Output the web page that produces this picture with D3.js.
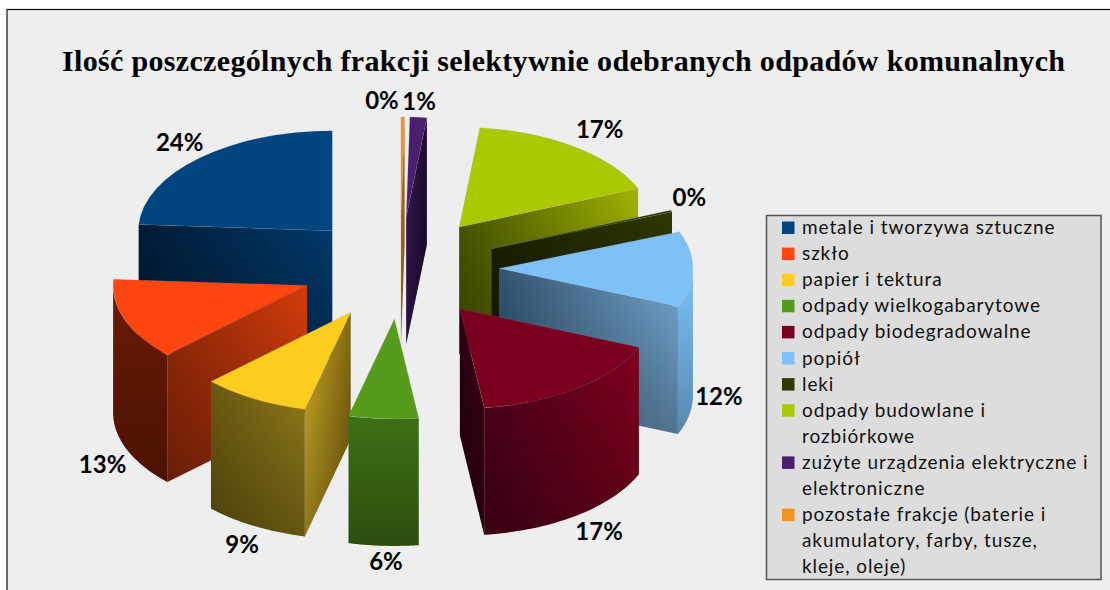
<!DOCTYPE html>
<html>
<head>
<meta charset="utf-8">
<script src="https://cdn.jsdelivr.net/npm/d3@7"></script>
<style>
  body { margin: 0; background: #fff; }
  svg { display: block; }
</style>
</head>
<body>
<div id="wrapper"></div>
<script>
const title = "Ilość poszczególnych frakcji selektywnie odebranych odpadów komunalnych";
const categories = [
  "metale i tworzywa sztuczne",
  "szkło",
  "papier i tektura",
  "odpady wielkogabarytowe",
  "odpady biodegradowalne",
  "popiół",
  "leki",
  "odpady budowlane i\nrozbiórkowe",
  "zużyte urządzenia elektryczne i\nelektroniczne",
  "pozostałe frakcje (baterie i\nakumulatory, farby, tusze,\nkleje, oleje)"
];
const shares = [24, 13.2, 9, 5.8, 16.7, 12.3, 0.3, 17, 1.4, 0.3];

// styles, same order as categories
const colors = ["#00457f", "#ff4510", "#fbcd1f", "#559c1a", "#7b001f", "#7dc1f8", "#2e3a00", "#abc900", "#4a1f70", "#f2951a"];
const wallColors = [
  ["#001b36", "#003a6b"], ["#952a08", "#d43c0c"], ["#d0ac28", "#85690f"], ["#3a6b15", "#3a6b15"], ["#2c0010", "#3a0014"],
  ["#33536f", "#73a6cf"], ["#171f00", "#2e3800"], ["#4a5800", "#a0b400"], ["#3a1a58", "#1e0b30"], ["#c97a14", "#a86a18"]
];
const rimColors = [
  ["#001b36", "#001b36"], ["#6a1a04", "#6a1a04"], ["#6a5a10", "#8f7a1a"], ["#3d7015", "#3d7015"], ["#4e0019", "#80001f"],
  ["#7dc1f8", "#7dc1f8"], ["#171f00", "#171f00"], ["#4a5800", "#4a5800"], ["#1e0b30", "#1e0b30"], ["#c97a14", "#c97a14"]
];
const labelNudges = [[-2, -5], [2, 13], [1, 7], [4, 3], [6, 6], [0, 0], [-6, -8], [9, -6], [-1, -2], [-21, -3]];

const width = 1110, height = 590;
const pieCenter = { x: 400, y: 268 };
const rx = 194, ry = 100;
const explode = 0.51;
const depth = 127;
const labelRadius = 1.134;

const svg = d3.select("#wrapper").append("svg").attr("width", width).attr("height", height);
const defs = svg.append("defs");

// plot area, the frame only shows on the top and left
svg.append("rect")
  .attr("x", 7).attr("y", 9.5)
  .attr("width", width).attr("height", height)
  .attr("fill", "#eeeeee").attr("stroke", "#111").attr("stroke-width", 1.2);

svg.append("text")
  .attr("x", 62).attr("y", 71)
  .attr("textLength", 1003).attr("lengthAdjust", "spacing")
  .style("font", "bold 30px 'Liberation Serif'")
  .text(title);

// counter-clockwise from 12 o'clock
const pie = d3.pie().sort(null).startAngle(0).endAngle(-2 * Math.PI);
const arcs = pie(shares).map((d, i) => {
  const mid = (d.startAngle + d.endAngle) / 2;
  return {
    ...d, i, mid,
    cx: pieCenter.x + explode * rx * Math.sin(mid),
    cy: pieCenter.y - explode * ry * Math.cos(mid)
  };
});

const point = (s, a, dy = 0) => [s.cx + rx * Math.sin(a), s.cy - ry * Math.cos(a) + dy];

function addGradient(id, pair, x1, x2) {
  const g = defs.append("linearGradient").attr("id", id)
    .attr("gradientUnits", "userSpaceOnUse")
    .attr("x1", x1).attr("x2", x2).attr("y1", 0).attr("y2", 0);
  g.append("stop").attr("offset", 0).attr("stop-color", pair[0]);
  g.append("stop").attr("offset", 1).attr("stop-color", pair[1]);
}

const fade = defs.append("linearGradient").attr("id", "fade").attr("x1", 0).attr("x2", 0).attr("y1", 0).attr("y2", 1);
fade.append("stop").attr("offset", 0).attr("stop-color", "#000").attr("stop-opacity", 0);
fade.append("stop").attr("offset", 1).attr("stop-color", "#000").attr("stop-opacity", 0.3);

const line = d3.line();
const topArc = d3.arc().innerRadius(0).outerRadius(rx);

function drawWall(g, pts, id, pair) {
  const xs = d3.extent(pts, p => p[0]);
  addGradient(id, pair, xs[0], xs[1]);
  g.append("path").attr("d", line(pts) + "Z").attr("fill", `url(#${id})`);
  g.append("path").attr("d", line(pts) + "Z").attr("fill", "url(#fade)");
}

// back slices first
d3.sort(arcs, s => s.cy).forEach(s => {
  const g = svg.append("g");
  const a1 = -s.startAngle, a2 = -s.endAngle; // positive, ccw

  // cut faces of the slice
  [[a1, Math.sin(a1) < -1e-6, "s"], [a2, Math.sin(a2) > 1e-6, "e"]].forEach(([a, visible, key]) => {
    if (!visible) return;
    const p = point(s, -a);
    const pts = [[s.cx, s.cy], p, [p[0], p[1] + depth], [s.cx, s.cy + depth]];
    drawWall(g, pts, `wall${s.i}${key}`, wallColors[s.i]);
  });

  // rim, only the part that faces the viewer
  const from = Math.max(a1, Math.PI / 2), to = Math.min(a2, 1.5 * Math.PI);
  if (to > from) {
    const angles = d3.range(0, 41).map(k => from + (to - from) * k / 40);
    const upper = angles.map(a => point(s, -a));
    const lower = angles.map(a => point(s, -a, depth)).reverse();
    drawWall(g, upper.concat(lower), `rim${s.i}`, rimColors[s.i]);
  }

  g.append("path")
    .attr("d", topArc(s))
    .attr("transform", `translate(${s.cx},${s.cy}) scale(1,${ry / rx})`)
    .attr("fill", colors[s.i])
    .attr("stroke", "#999").attr("stroke-opacity", 0.25)
    .attr("stroke-width", 0.6)
    .attr("vector-effect", "non-scaling-stroke");
});

// percent labels
const pct = d3.format(".0%");
svg.append("g").selectAll("text").data(arcs).enter().append("text")
  .attr("text-anchor", "middle")
  .attr("x", s => s.cx + labelRadius * rx * Math.sin(s.mid) + labelNudges[s.i][0])
  .attr("y", s => s.cy - labelRadius * ry * Math.cos(s.mid) + (Math.cos(s.mid) < 0.01 ? depth : 0) + labelNudges[s.i][1] + 8)
  .style("font", "bold 24px Lato")
  .text(s => pct(s.value / 100));

// legend
svg.append("rect")
  .attr("x", 766.5).attr("y", 215.5)
  .attr("width", 334.5).attr("height", 364)
  .attr("fill", "#dddddd").attr("stroke", "#555").attr("stroke-width", 1.5);

let row = 0;
const rowHeight = 26.1;
categories.forEach((name, i) => {
  const y = 228 + row * rowHeight;
  svg.append("rect")
    .attr("x", 782).attr("y", y - 6.5)
    .attr("width", 12.5).attr("height", 12.5)
    .attr("fill", colors[i]);
  name.split("\n").forEach(part => {
    svg.append("text")
      .attr("x", 802).attr("y", 228 + row * rowHeight + 6)
      .style("font", "19px Lato")
      .style("letter-spacing", "0.9px")
      .style("fill", "#111")
      .text(part);
    row += 1;
  });
});
</script>
</body>
</html>
